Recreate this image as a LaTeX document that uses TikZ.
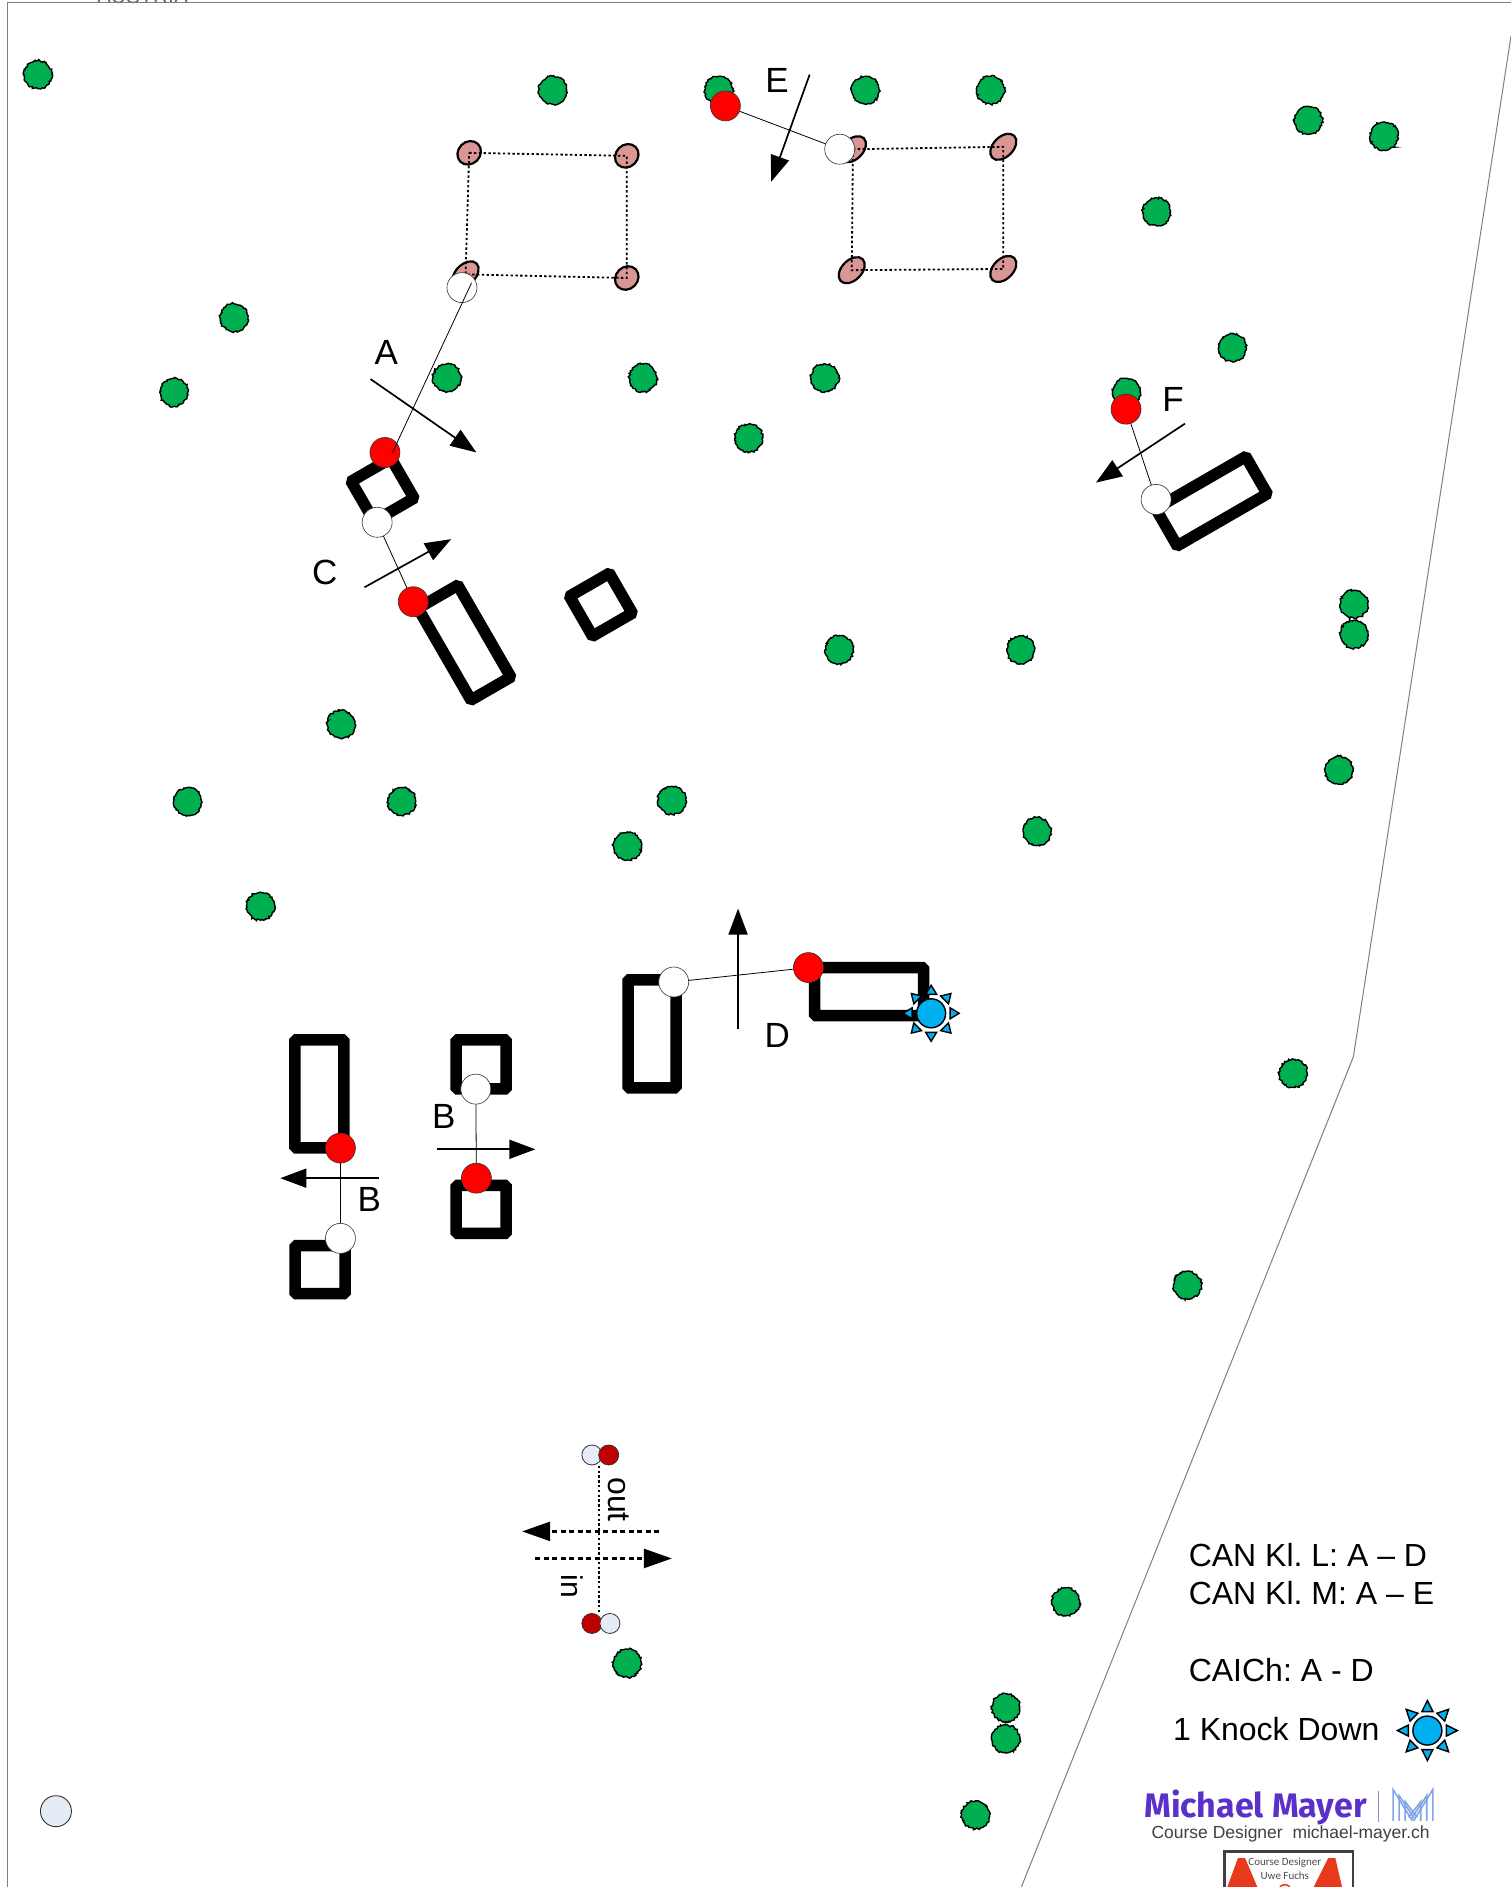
\documentclass[tikz,border=0pt]{standalone}
\usepackage{fontspec}
\setmainfont{Liberation Sans}
\newfontfamily\logofont{Fira Sans}
\newfontfamily\badgefont{Carlito}
\usetikzlibrary{arrows.meta,shapes.geometric,decorations.pathmorphing,calc}
\definecolor{treegreen}{HTML}{00B050}
\definecolor{pegpink}{HTML}{D99694}
\definecolor{lightdisc}{HTML}{E6ECF5}
\definecolor{darkred}{HTML}{C00000}
\definecolor{kdblue}{HTML}{00B0F0}
\definecolor{logopurple}{HTML}{5B2FC9}
\definecolor{logoblue}{HTML}{7FA6E8}
\definecolor{bordergray}{HTML}{808080}
\definecolor{conered}{HTML}{E8391C}
\pgfmathsetseed{42}
\tikzset{
  tree/.style={circle,draw=black,fill=treegreen,line width=1.4pt,minimum size=28pt,inner sep=0pt,
    decorate,decoration={random steps,segment length=1.6pt,amplitude=1pt}},
  fence/.style={rectangle,draw=black,line width=11.5pt,rounded corners=1.5pt,fill=none,inner sep=0pt},
  redpole/.style={circle,draw=black!80,line width=.6pt,fill=red,minimum size=30pt,inner sep=0pt},
  whitepole/.style={circle,draw=black!80,line width=.6pt,fill=white,minimum size=30pt,inner sep=0pt},
  startdisc/.style={circle,draw=black!80,line width=.8pt,minimum size=20pt,inner sep=0pt},
  pegA/.style={ellipse,draw=black,line width=2.2pt,fill=pegpink,minimum width=25pt,minimum height=22pt,inner sep=0pt,rotate=45},
  pegB/.style={ellipse,draw=black,line width=2.2pt,fill=pegpink,minimum width=31pt,minimum height=20pt,inner sep=0pt,rotate=45},
  dotline/.style={line width=1.8pt,dash pattern=on 2.4pt off 2.4pt},
  thinline/.style={line width=.8pt,draw=black},
  dirarrow/.style={line width=1.7pt,-{Triangle[length=26pt,width=19pt]}},
  gatearrow/.style={line width=2.4pt,dash pattern=on 5pt off 3.5pt,-{Triangle[length=28pt,width=19pt]}},
  letter/.style={font=\fontsize{35}{35}\selectfont,inner sep=0pt},
  legend/.style={font=\fontsize{32}{32}\selectfont,anchor=west,inner sep=0pt},
  kdray/.style={draw=black,line width=1.4pt,fill=kdblue,line join=miter},
  kdcore/.style={circle,draw=black,line width=1.4pt,fill=kdblue,minimum size=29pt,inner sep=0pt},
}
\newcommand{\kdstar}[3]{%
  \foreach \a in {0,45,...,315}{
    \path[kdray,shift={#1},rotate=\a] (19pt,-5.5pt) -- (#3,0pt) -- (19pt,5.5pt) -- cycle;
  }
  \node[kdcore] (#2) at #1 {};
}
\begin{document}
\frenchspacing
\begin{tikzpicture}[x=1.20302pt,y=-1.20344pt]
\useasboundingbox (0,0) rectangle (1256,1568);
\clip (0,0) rectangle (1256,1568);
\fill[white] (0,0) rectangle (1256,1568);
% header remainder
\node[font=\fontsize{21}{21}\selectfont,text=black!60,inner sep=0pt,anchor=base] (country) at (118.5,2.6) {AUSTRIA};
% arena outline
\draw[bordergray,line width=1pt] (6,1568) -- (6,2) -- (1256,2);
\draw[bordergray,line width=1pt] (1256,30) -- (1125,878) -- (849,1568);
% trees
\foreach \n/\p in {1/{31.5,62},2/{459.5,75},3/{597.5,75},4/{719.5,75},5/{823.5,75},6/{1087.5,100},7/{1150.5,113},8/{961.5,176},
  9/{1024.5,289},10/{936.5,326},11/{194.5,264},12/{144.5,326},13/{371.5,314},14/{534.5,314},15/{685.5,314},16/{622.5,364},
  17/{1125.5,502},18/{1125.5,527},19/{697.5,540},20/{848.5,540},21/{283.5,602},22/{1113,640},23/{156,666},24/{334,666},
  25/{558.5,665},26/{521.5,703},27/{862,691},28/{216.5,753},29/{1075,892},30/{987,1068},31/{886,1331},32/{521.5,1382},
  33/{836,1419},34/{836,1445},35/{811,1508}}
  {\node[tree] (tree\n) at (\p) {};}
% oxer pegs and dotted frames
\node[pegA] (pa1) at (390,127) {};
\node[pegA] (pa2) at (521,129.5) {};
\node[pegA] (pa3) at (521,231) {};
\node[pegB] (pa4) at (387,228) {};
\node[pegB] (pb1) at (709,124) {};
\node[pegB] (pb2) at (834,122) {};
\node[pegB] (pb3) at (834,223.5) {};
\node[pegB] (pb4) at (708,224.5) {};
\draw[dotline] (pa1.center) -- (pa2.center) -- (pa3.center) -- (pa4.center) -- (pa1.center);
\draw[dotline] (pb1.center) -- (pb2.center) -- (pb3.center) -- (pb4.center) -- (pb1.center);
% fences
\node[fence,minimum width=46pt,minimum height=46pt,rotate=30] (f1) at (318,407) {};
\node[fence,minimum width=46pt,minimum height=106pt,rotate=30] (f2) at (386,534) {};
\node[fence,minimum width=46pt,minimum height=46pt,rotate=30] (f3) at (499.5,502.5) {};
\node[fence,minimum width=104pt,minimum height=43pt,rotate=30] (f4) at (1007,416.5) {};
\node[fence,minimum width=48pt,minimum height=108pt] (f5) at (542,859) {};
\node[fence,minimum width=109pt,minimum height=48pt] (f6) at (722.5,824) {};
\node[fence,minimum width=49pt,minimum height=108pt] (f7) at (265.5,909) {};
\node[fence,minimum width=50pt,minimum height=48pt] (f8) at (266,1055) {};
\node[fence,minimum width=50pt,minimum height=49pt] (f9) at (400,884.5) {};
\node[fence,minimum width=50pt,minimum height=48pt] (f10) at (400,1005) {};
% distance poles
\node[whitepole] (wa) at (384,239) {};
\node[redpole] (ra) at (320,376) {};
\node[whitepole] (wc) at (313.5,434) {};
\node[redpole] (rc) at (343.5,500) {};
\node[whitepole] (we) at (698,124) {};
\node[redpole] (re) at (603,88) {};
\node[whitepole] (wf) at (961,415) {};
\node[redpole] (rf) at (936,340) {};
\node[whitepole] (wd) at (560,816) {};
\node[redpole] (rd) at (672,804) {};
\node[whitepole] (wbl) at (283,1029) {};
\node[redpole] (rbl) at (283,954) {};
\node[whitepole] (wbr) at (395.5,905) {};
\node[redpole] (rbr) at (396,979) {};
\coordinate (aTop) at (392,235);
\coordinate (aBot) at (326,376.5);
\draw[thinline] (aTop) -- (aBot);
\draw[thinline] (wc) -- (rc);
\draw[thinline] (we) -- (re);
\draw[thinline] (wf) -- (rf);
\draw[thinline] (wd) -- (rd);
\draw[thinline] (wbl) -- (rbl);
\draw[thinline] (wbr) -- (rbr);
% direction arrows
\coordinate (a1) at (308,315); \coordinate (a2) at (396,376);
\coordinate (e1) at (673,62); \coordinate (e2) at (641,151);
\coordinate (c1) at (303,488); \coordinate (c2) at (375,448);
\coordinate (d1) at (613.5,855); \coordinate (d2) at (613.5,755);
\coordinate (fa) at (985,352); \coordinate (fb) at (911,401);
\coordinate (bl1) at (315,979); \coordinate (bl2) at (233,979);
\coordinate (br1) at (363,955); \coordinate (br2) at (445,955);
\draw[dirarrow] (a1) -- (a2);
\draw[dirarrow] (e1) -- (e2);
\draw[dirarrow] (c1) -- (c2);
\draw[dirarrow] (d1) -- (d2);
\draw[dirarrow] (fa) -- (fb);
\draw[dirarrow] (bl1) -- (bl2);
\draw[dirarrow] (br1) -- (br2);
% labels
\node[letter] (la) at (321,293) {A};
\node[letter] (le) at (646,67) {E};
\node[letter] (lf) at (975,332) {F};
\node[letter] (lc) at (270,476) {C};
\node[letter] (ld) at (646,860) {D};
\node[letter] (lb1) at (369,928) {B};
\node[letter] (lb2) at (307,997) {B};
% start / finish
\node[startdisc,fill=lightdisc] (st1) at (492,1209) {};
\node[startdisc,fill=darkred] (st2) at (506,1209) {};
\node[startdisc,fill=darkred] (fi1) at (492,1349) {};
\node[startdisc,fill=lightdisc] (fi2) at (507,1349) {};
\coordinate (sfTop) at (498,1218);
\coordinate (sfBot) at (498,1340);
\draw[dotline] (sfTop) -- (sfBot);
\coordinate (o1) at (548,1272.5); \coordinate (o2) at (434,1272.5);
\coordinate (i1) at (445,1295); \coordinate (i2) at (558.5,1295);
\draw[gatearrow] (o1) -- (o2);
\draw[gatearrow] (i1) -- (i2);
\node[font=\fontsize{32}{32}\selectfont,rotate=-90,inner sep=0pt] (lout) at (514,1246) {out};
\node[font=\fontsize{30}{30}\selectfont,rotate=-90,inner sep=0pt] (lin) at (476,1318) {in};
% knock down marks
\kdstar{(774,842)}{kd1}{28pt}
\kdstar{(1186.5,1438)}{kd2}{30pt}
% practice ring
\node[circle,draw=black!80,line width=.9pt,fill=lightdisc,minimum size=31pt,inner sep=0pt] (ring) at (46.5,1505) {};
% legend
\node[legend] (t1) at (988,1292) {CAN Kl. L: A – D};
\node[legend] (t2) at (988,1324) {CAN Kl. M: A – E};
\node[legend] (t3) at (988,1388) {CAICh: A - D};
\node[legend] (t4) at (975,1437) {1 Knock Down};
% logo
\node[font=\logofont\bfseries\fontsize{34}{34}\selectfont,text=logopurple,anchor=west,inner sep=0pt] (mm) at (951,1501.5) {Michael Mayer};
\draw[logopurple!60,line width=.9pt] (1146,1488) -- (1146,1514);
\foreach \o in {0,5,10}{
  \draw[logoblue,line width=1.6pt] (1158+\o,1513) -- (1158+\o,1487+\o) -- (1174+\o*.4,1513-\o*.3);
  \draw[logoblue,line width=1.6pt] (1191-\o,1513) -- (1191-\o,1487+\o) -- (1175-\o*.4,1513-\o*.3);
}
\node[font=\fontsize{17.5}{17.5}\selectfont,text=black!75,anchor=west,inner sep=0pt] (cd) at (957,1524) {Course Designer\ \ michael-mayer.ch};
% second badge
\draw[black!75,line width=2.5pt] (1018,1570) -- (1018,1538.5) -- (1124.5,1538.5) -- (1124.5,1570);
\fill[conered] (1019.5,1570) -- (1029,1544) -- (1035,1544) -- (1046,1570) -- cycle;
\fill[conered] (1091,1570) -- (1104,1544) -- (1110,1544) -- (1116,1570) -- cycle;
\draw[conered,line width=1.5pt] (1068,1571) circle (5);
\node[font=\badgefont\fontsize{11}{14}\selectfont,text=black!70,align=center,inner sep=0pt] (uf) at (1068,1552.5) {Course Designer\\Uwe Fuchs};
\end{tikzpicture}
\end{document}
